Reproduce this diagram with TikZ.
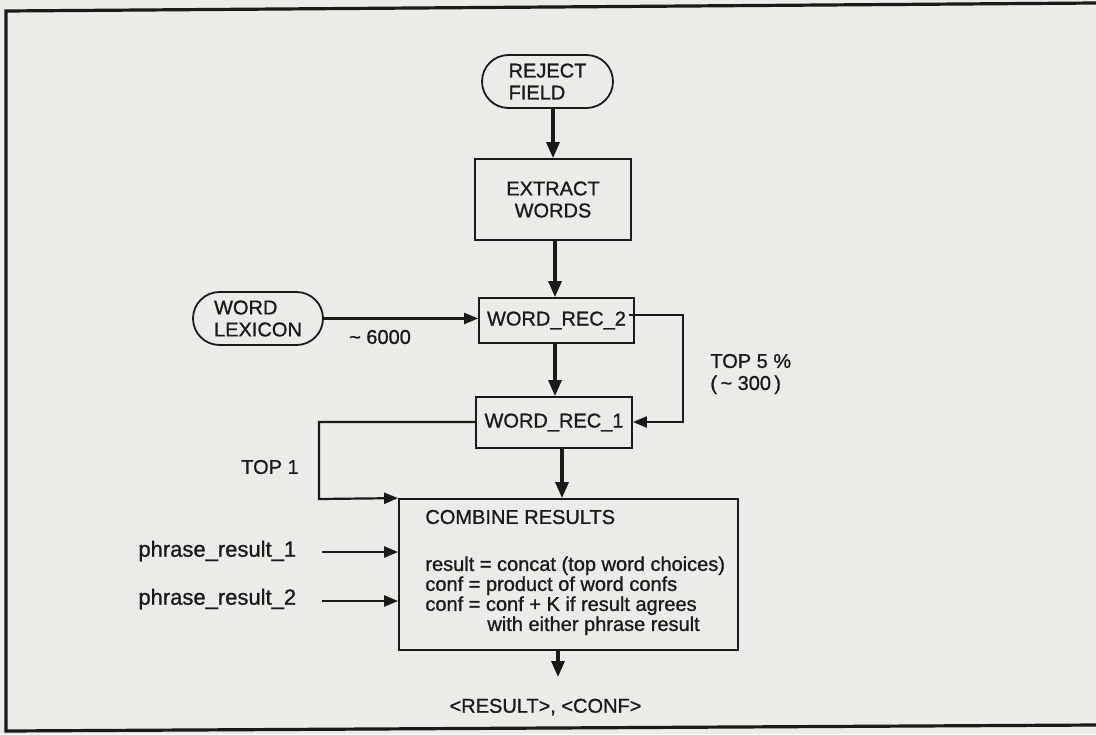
\documentclass[tikz,border=0pt]{standalone}
\usepackage{fontspec}
\setmainfont{Liberation Sans}[FakeBold=1]
\usetikzlibrary{arrows.meta,shapes.misc}
\definecolor{paper}{HTML}{EDEBE8}
\definecolor{ink}{HTML}{1A1A1A}
\begin{document}
\begin{tikzpicture}[x=0.5pt,y=-0.5pt,
  font=\fontsize{10}{11}\selectfont,
  every node/.style={text=ink},
  procbox/.style={draw=ink,line width=0.9pt,rectangle,inner sep=0pt,align=center},
  termbox/.style={draw=ink,line width=0.9pt,rounded rectangle,inner sep=0pt,align=left},
  lbl/.style={inner sep=0pt,align=left},
  mainarr/.style={draw=ink,line width=1.6pt,-{Triangle[length=8pt,width=6.5pt]}},
  thinarr/.style={draw=ink,line width=1.1pt,-{Triangle[length=7pt,width=5.5pt]}},
  thinline/.style={draw=ink,line width=1.1pt}]
\useasboundingbox (0,0) rectangle (1096,734);
\fill[paper] (0,0) rectangle (1096,734);
% frame
\draw[ink,line width=1.6pt] (1096,3) -- (6,11) -- (6,731) -- (1096,725);

% nodes
\node[termbox,minimum width=65.5pt,minimum height=26.5pt] (reject) at (547.5,81.5) {REJECT\\FIELD};
\node[procbox,minimum width=78pt,minimum height=40.5pt] (extract) at (553,199.5) {EXTRACT\\WORDS};
\node[termbox,minimum width=65pt,minimum height=26.5pt] (lexicon) at (258,318.5) {WORD\\LEXICON};
\node[procbox,minimum width=77.5pt,minimum height=22.5pt] (wr2) at (556.5,320.5) {WORD\_REC\_2};
\node[procbox,minimum width=78pt,minimum height=25.5pt] (wr1) at (554,422.5) {WORD\_REC\_1};
\node[procbox,minimum width=169.5pt,minimum height=75.5pt] (combine) at (568.5,574.5) {};

\node[lbl] (combtitle) at (425,517) [anchor=west] {COMBINE RESULTS};
\node[lbl,anchor=north west,font=\fontsize{10}{10}\selectfont] (combtext) at (425,556)
  {result = concat (top word choices)\\conf = product of word confs\\conf = conf + K if result agrees\\\hspace{31pt}with either phrase result};

\node[lbl] (n6000) at (380,337) {\textasciitilde\ 6000};
\node[lbl] (top5) at (710,374) [anchor=west] {TOP 5 \%\\(\,\textasciitilde\ 300\,)};
\node[lbl] (top1) at (270,467) {TOP 1};
\node[lbl,anchor=west,font=\fontsize{11}{12}\selectfont] (pr1) at (138,551) {phrase\_result\_1};
\node[lbl,anchor=west,font=\fontsize{11}{12}\selectfont] (pr2) at (138,599) {phrase\_result\_2};
\node[lbl] (out) at (545.5,707) {<RESULT>, <CONF>};

\coordinate (pr1e) at (322,552);
\coordinate (pr2e) at (322,601);
\coordinate (outend) at (558,677);

% connectors
\draw[mainarr] (extract.north |- reject.south) -- (extract.north);
\draw[mainarr] (extract.south -| 555,0) -- (wr2.north -| 555,0);
\draw[mainarr] (wr2.south -| 555,0) -- (wr1.north -| 555,0);
\draw[mainarr] (wr1.south -| 562,0) -- (combine.north -| 562,0);
\draw[thinarr] (lexicon.east) -- (lexicon.east -| wr2.west);
\draw[thinarr] ([xshift=-3pt]wr2.east |- 0,315) -- (683,315) -- (683,422) -- (wr1.east |- 0,422);
\draw[thinarr] (wr1.west |- 0,422) -- (319,422) -- (319,499) -- (combine.north west);
\draw[thinarr] (pr1e) -- (pr1e -| combine.west);
\draw[thinarr] (pr2e) -- (pr2e -| combine.west);
\draw[mainarr] (combine.south -| outend) -- (outend);
\end{tikzpicture}
\end{document}
